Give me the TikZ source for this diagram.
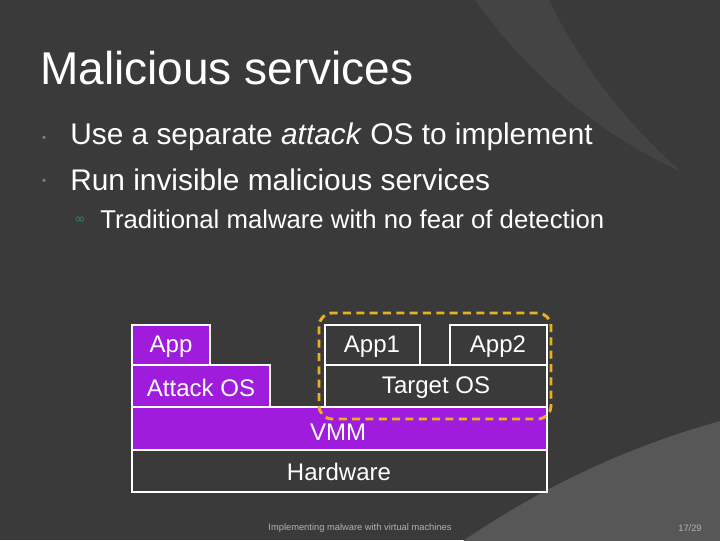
\documentclass[tikz,border=0pt]{standalone}
\usepackage{fontspec}
\setmainfont{Liberation Sans}
\newfontfamily\dv{DejaVu Sans}
\begin{document}
\begin{tikzpicture}[x=0.75pt,y=-0.75pt,
  box/.style={draw=white,line width=2pt},
  pbox/.style={box,fill=vpurple},
  dbox/.style={box,fill=bg},
  lbl/.style={text=white,font=\fontsize{18}{18}\selectfont,inner sep=0pt}]
\definecolor{bg}{HTML}{3A3A3A}
\definecolor{bg2}{HTML}{444444}
\definecolor{vpurple}{HTML}{A01CDC}
\definecolor{dorange}{HTML}{E8B020}
\fill[bg] (0,0) rectangle (720,540);
\begin{scope}
\clip (0,0) rectangle (720,540);
\fill[bg2] (900,-300) circle (520);
\fill[bg] (1050,-250) circle (560);
\fill[bg2!90!white] (950,1250) circle (860);
\end{scope}
\useasboundingbox (0,0) rectangle (720,540);
\node[anchor=west,text=white,font=\fontsize{34.5}{34.5}\selectfont,inner sep=0pt] (title) at (40,68) {Malicious services};
\node[text=gray,font=\tiny,inner sep=0pt] (b1) at (44,138) {$\bullet$};
\node[text=gray,font=\tiny,inner sep=0pt] (b2) at (44,181) {$\bullet$};
\node[anchor=west,text=white,font=\fontsize{22.4}{22.4}\selectfont,inner sep=0pt] (t1) at (70,137) {Use a separate \textit{attack} OS to implement};
\node[anchor=west,text=white,font=\fontsize{22.4}{22.4}\selectfont,inner sep=0pt] (t2) at (70,180) {Run invisible malicious services};
\node[anchor=west,text=teal!60!gray,font=\dv\fontsize{10}{10}\selectfont,inner sep=0pt] (b3) at (74,220) {∞};
\node[anchor=west,text=white,font=\fontsize{19.3}{19.3}\selectfont,inner sep=0pt] (t3) at (100,219) {Traditional malware with no fear of detection};
\draw[dbox] (132,450) rectangle (547,492);
\draw[pbox] (132,407) rectangle (547,450);
\draw[pbox] (132,365) rectangle (270,407);
\draw[pbox] (132,325) rectangle (210,365);
\draw[dbox] (325,365) rectangle (547,407);
\draw[dbox] (325,325) rectangle (420,365);
\draw[dbox] (450,325) rectangle (547,365);
\node[lbl] (app) at (171,347) {App};
\node[lbl] (aos) at (201,388) {Attack OS};
\node[lbl] (vmm) at (338,432) {VMM};
\node[lbl] (hw) at (339,472) {Hardware};
\node[lbl] (a1) at (372,347) {App1};
\node[lbl] (a2) at (498,347) {App2};
\node[lbl] (tos) at (436,388) {Target OS};
\draw[dorange,line width=2.2pt,dash pattern=on 6pt off 4pt,rounded corners=10pt] (319,313) rectangle (551,419);
\node[text=gray!60,font=\fontsize{7}{7}\selectfont,inner sep=0pt] (foot) at (360,528) {Implementing malware with virtual machines};
\node[text=gray!60,font=\fontsize{7}{7}\selectfont,inner sep=0pt] (pg) at (690,528) {17/29};
\end{tikzpicture}
\end{document}
